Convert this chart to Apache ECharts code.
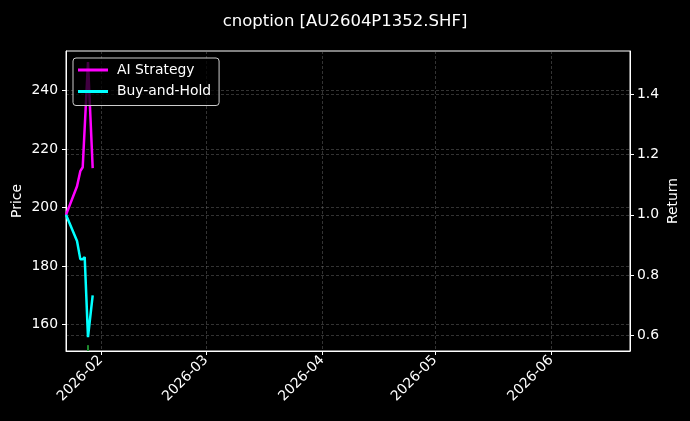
<!DOCTYPE html>
<html>
<head>
<meta charset="utf-8">
<script src="https://cdn.jsdelivr.net/npm/echarts@6/dist/echarts.min.js"></script>
<style>
  html, body { margin: 0; padding: 0; background: #000; }
  #chart { width: 690px; height: 421px; }
</style>
</head>
<body>
<div id="chart"></div>
<script>
// values
var dates = [
    "2026-01-22 17:30", "2026-01-25 16:00", "2026-01-26 13:00", "2026-01-27 04:20",
    "2026-01-27 17:00", "2026-01-28 14:10", "2026-01-29 20:10"
];
var aiStrategy = [1.000, 1.095, 1.145, 1.158, 1.152, 1.507, 1.155];
var buyAndHold = [1.000, 0.913, 0.853, 0.853, 0.860, 0.594, 0.733];
var signalDates = ["2026-01-28 14:10", "2026-01-28 14:10"];
var signalPrice = [150.9, 152.9];

var axisMin = "2026-01-22 17:30", axisMax = "2026-06-22 00:00";
var priceRange = [150.9, 253.6], returnRange = [0.548, 1.544];

var font = "DejaVu Sans";
var gridLine = { show: true, lineStyle: { color: "rgba(128,128,128,0.5)", width: 0.8, type: [3, 2] } };

function zip(a, b) {
    return a.map(function (v, i) { return [v, b[i]]; });
}

var chart = echarts.init(document.getElementById("chart"));
var option = {
    backgroundColor: "#000",
    animation: false,
    textStyle: { fontFamily: font },
    title: {
        text: "cnoption [AU2604P1352.SHF]",
        left: "center",
        top: 8,
        textStyle: { color: "#fff", fontSize: 16.5, fontWeight: "normal", fontFamily: font }
    },
    legend: {
        orient: "vertical",
        left: 73,
        top: 58,
        padding: [5, 8, 7, 5],
        itemGap: 7.5,
        itemWidth: 30,
        itemHeight: 3,
        icon: "rect",
        backgroundColor: "rgba(0,0,0,0.75)",
        borderColor: "#ccc",
        borderWidth: 1,
        borderRadius: 3,
        textStyle: { color: "#fff", fontSize: 13.9, fontFamily: font, padding: [0, 0, 0, 4] },
        data: ["AI Strategy", "Buy-and-Hold"]
    },
    grid: {
        left: 66, right: 60, top: 51, bottom: 70,
        outerBoundsMode: "none", containLabel: false,
        show: true, borderColor: "#fff", borderWidth: 1
    },
    xAxis: {
        type: "time",
        min: axisMin,
        max: axisMax,
        minInterval: 28 * 86400000,
        axisLine: { lineStyle: { color: "#fff" } },
        axisTick: { length: 4, lineStyle: { color: "#fff" } },
        axisLabel: {
            color: "#fff", fontSize: 13.9, rotate: 45, margin: 7,
            formatter: "{yyyy}-{MM}", showMinLabel: false, showMaxLabel: false
        },
        splitLine: gridLine
    },
    yAxis: [
        {
            type: "value",
            name: "Price",
            nameLocation: "middle",
            nameRotate: 90,
            nameGap: 42,
            nameMoveOverlap: false,
            nameTextStyle: { color: "#fff", fontSize: 13.9 },
            min: priceRange[0],
            max: priceRange[1],
            splitNumber: 5,
            axisLine: { show: true, lineStyle: { color: "#fff" } },
            axisTick: { show: true, length: 4, lineStyle: { color: "#fff" } },
            axisLabel: { color: "#fff", fontSize: 13.9, margin: 8, showMinLabel: false, showMaxLabel: false },
            splitLine: gridLine
        },
        {
            type: "value",
            name: "Return",
            nameLocation: "middle",
            nameRotate: 90,
            nameGap: 36,
            nameMoveOverlap: false,
            nameTextStyle: { color: "#fff", fontSize: 13.9 },
            min: returnRange[0],
            max: returnRange[1],
            splitNumber: 5,
            axisLine: { show: true, lineStyle: { color: "#fff" } },
            axisTick: { show: true, length: 4, lineStyle: { color: "#fff" } },
            axisLabel: {
                color: "#fff", fontSize: 13.9, margin: 7, showMinLabel: false, showMaxLabel: false,
                formatter: function (v) { return v.toFixed(1); }
            },
            splitLine: gridLine
        }
    ],
    series: [
        {
            name: "AI Strategy",
            type: "line",
            yAxisIndex: 1,
            showSymbol: false,
            color: "#ff00ff",
            lineStyle: { width: 2.5, color: "#ff00ff" },
            data: zip(dates, aiStrategy)
        },
        {
            name: "Buy-and-Hold",
            type: "line",
            yAxisIndex: 1,
            showSymbol: false,
            color: "#00ffff",
            lineStyle: { width: 2.5, color: "#00ffff" },
            data: zip(dates, buyAndHold)
        },
        {
            name: "Signal",
            type: "line",
            yAxisIndex: 0,
            showSymbol: false,
            lineStyle: { width: 2, color: "#1e8a2e" },
            data: zip(signalDates, signalPrice)
        }
    ]
};
chart.setOption(option);
window.addEventListener("resize", function () { chart.resize(); });
</script>
</body>
</html>
